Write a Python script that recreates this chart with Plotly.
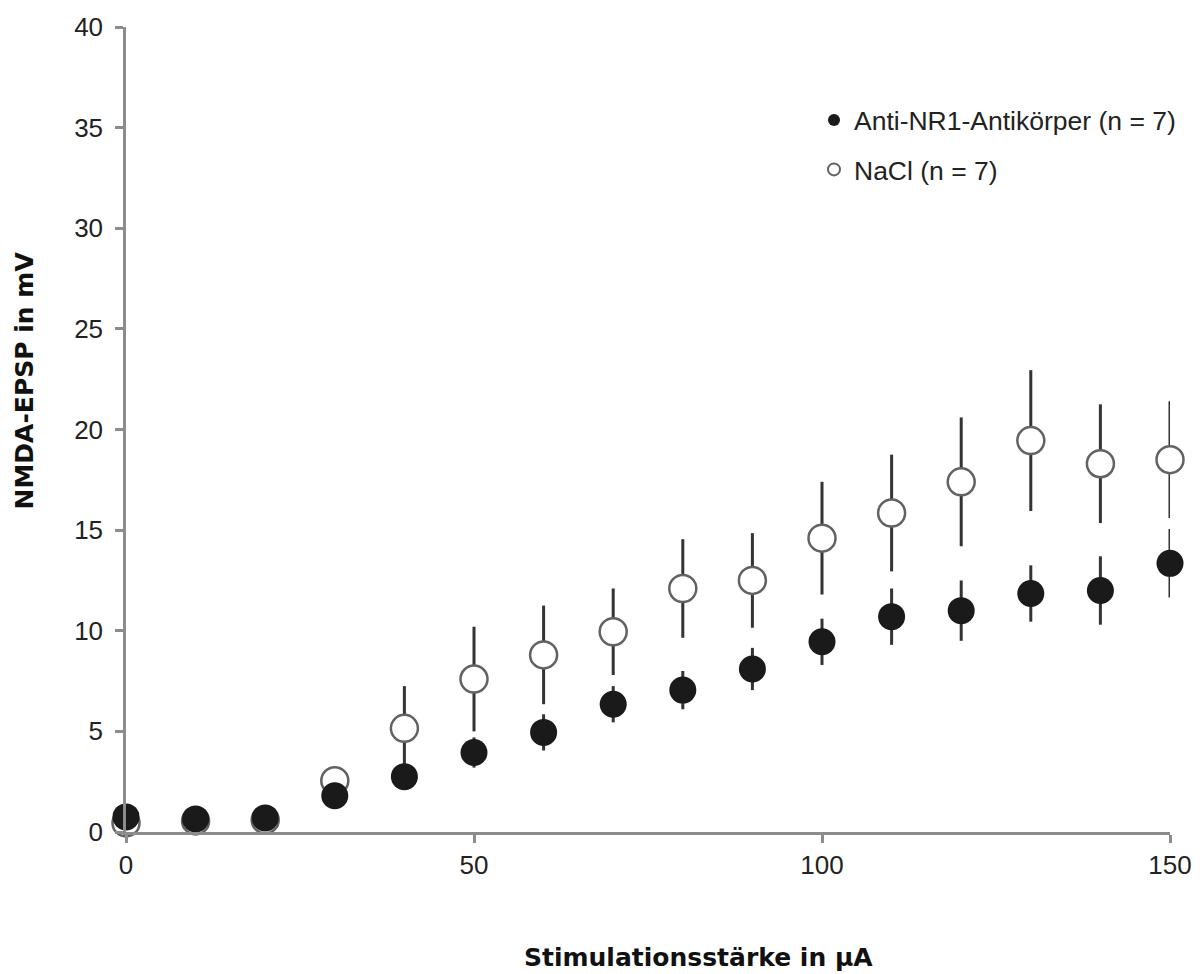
import plotly.graph_objects as go

x_vals = [0, 10, 20, 30, 40, 50, 60, 70, 80, 90, 100, 110, 120, 130, 140, 150]
anti_mean = [0.75, 0.65, 0.7, 1.8, 2.75, 3.95, 4.95, 6.35, 7.05, 8.1, 9.45, 10.7, 11.0, 11.85, 12.0, 13.35]
anti_err = [0.2, 0.15, 0.15, 0.3, 0.5, 0.75, 0.9, 0.9, 0.95, 1.05, 1.15, 1.4, 1.5, 1.4, 1.7, 1.7]
nacl_mean = [0.45, 0.55, 0.6, 2.55, 5.15, 7.6, 8.8, 9.95, 12.1, 12.5, 14.6, 15.85, 17.4, 19.45, 18.3, 18.5]
nacl_err = [0.1, 0.1, 0.1, 0.3, 2.1, 2.6, 2.45, 2.15, 2.45, 2.35, 2.8, 2.9, 3.2, 3.5, 2.95, 2.9]

x_ticks = [0, 50, 100, 150]
y_ticks = [0, 5, 10, 15, 20, 25, 30, 35, 40]

FONT = "Liberation Sans, Arial, sans-serif"
BOLD = "DejaVu Sans, Verdana, sans-serif"
AXC = "#8c8c8c"

fig = go.Figure()
fig.add_trace(go.Scatter(
    x=x_vals, y=nacl_mean, mode="markers", name="NaCl (n = 7)",
    legendgroup="b", legendrank=2,
    marker=dict(symbol="circle", size=27, color="white",
                line=dict(color="#626262", width=2.5)),
    error_y=dict(type="data", array=nacl_err, visible=True,
                 color="#333333", thickness=3, width=0),
    cliponaxis=False,
))
fig.add_trace(go.Scatter(
    x=x_vals, y=anti_mean, mode="markers", name="Anti-NR1-Antikörper (n = 7)",
    legendgroup="a", legendrank=1,
    marker=dict(symbol="circle", size=27, color="#1a1a1a",
                line=dict(color="#1a1a1a", width=0)),
    error_y=dict(type="data", array=anti_err, visible=True,
                 color="#333333", thickness=3, width=0),
    cliponaxis=False,
))

fig.update_layout(
    width=1204, height=974,
    margin=dict(l=126, r=32, t=23, b=142),
    paper_bgcolor="white", plot_bgcolor="white",
    font=dict(family=FONT, size=26, color="#222222"),
    showlegend=True,
    legend=dict(x=0.659, y=0.914, xanchor="left", yanchor="top",
                font=dict(family=FONT, size=26.5, color="#222222"),
                tracegroupgap=12, bgcolor="rgba(0,0,0,0)",
                itemsizing="constant"),
    xaxis=dict(range=[0, 150], tickvals=x_ticks, showgrid=False, zeroline=False,
               showline=True, linecolor=AXC, linewidth=2.5,
               ticks="outside", ticklen=8, tickwidth=2.5, tickcolor=AXC,
               tickfont=dict(family=FONT, size=26, color="#222222")),
    yaxis=dict(range=[0, 40], tickvals=y_ticks, showgrid=False, zeroline=False,
               showline=True, linecolor=AXC, linewidth=2.5,
               ticks="outside", ticklen=8, tickwidth=2.5, tickcolor=AXC,
               ticklabelstandoff=7,
               tickfont=dict(family=FONT, size=26, color="#222222")),
    annotations=[
        dict(text="<b>Stimulationsstärke in µA</b>", xref="paper", yref="paper",
             x=(700 - 126) / 1046, y=-(958 - 832) / 809, xanchor="center", yanchor="middle",
             showarrow=False, font=dict(family=BOLD, size=25, color="#111111")),
        dict(text="<b>NMDA-EPSP in mV</b>", xref="paper", yref="paper",
             x=-(126 - 24) / 1046, y=(832 - 378) / 809, xanchor="center", yanchor="middle",
             textangle=-90, showarrow=False, font=dict(family=BOLD, size=25, color="#111111")),
    ],
)

fig.write_html("out.html")
